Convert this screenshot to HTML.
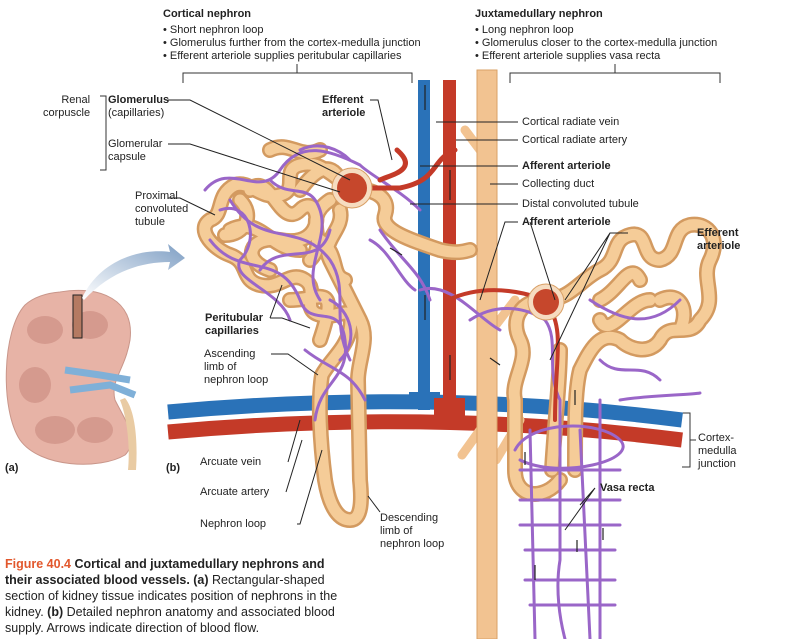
<!DOCTYPE html>
<html><head><meta charset="utf-8"><style>
body{margin:0;background:#fff;}
#w{position:relative;width:800px;height:639px;overflow:hidden;font-family:"Liberation Sans",sans-serif;color:#222;}
.t{position:absolute;font-size:11px;line-height:13px;white-space:nowrap;}
b{font-weight:bold;}
</style></head><body><div id="w">
<svg width="800" height="639" style="position:absolute;left:0;top:0">
<defs>
<linearGradient id="arr" x1="0" y1="1" x2="1" y2="0"><stop offset="0" stop-color="#fff"/><stop offset="1" stop-color="#7f9fc4"/></linearGradient>
<path id="ct" d="M352,188 C380,190 390,200 385,215 C380,230 410,240 440,250 C460,255 468,250 470,250 M352,188 C330,175 320,160 300,165 C280,170 300,190 280,195 C260,200 250,180 235,185 C215,195 225,215 210,220 C195,230 215,250 230,255 C250,262 240,280 260,285 C280,290 290,270 305,280 C320,290 300,310 320,315 C340,320 355,300 350,330 C345,350 330,360 322,375 C318,400 320,440 325,480 C330,510 340,520 350,520 C362,520 362,500 360,480 L358,380 C358,360 370,340 360,320 C350,300 340,280 330,260 C320,240 345,230 340,210 M250,190 C270,170 280,230 300,210 C320,190 330,250 280,240 C250,235 240,260 270,270 M230,230 C260,215 270,250 300,250 M330,200 C300,220 330,240 310,260 M290,300 C320,300 340,280 320,340 M300,190 C315,170 330,160 340,180 M240,200 C255,215 245,235 225,235 M320,240 C340,255 330,275 345,280 M270,150 C290,140 300,160 320,150"/>
<path id="jt" d="M545,300 C570,300 580,280 600,270 C620,260 610,240 630,235 C650,230 640,260 660,260 C680,255 670,230 690,225 C710,222 720,240 710,260 C700,280 720,300 700,320 C690,340 670,320 660,340 C650,355 630,350 620,340 C600,330 590,350 580,370 C575,390 575,420 575,470 M545,300 C520,300 510,320 520,340 C530,360 510,380 515,400 L515,470 C515,500 545,500 560,480 M560,350 C560,380 555,420 552,470 M600,320 C610,340 630,300 650,300 M640,280 C630,260 620,290 600,300 M660,300 C680,290 690,310 680,330"/>
</defs>
<g stroke="#333" fill="none" stroke-width="1">
<path d="M183,83 V73 H412 V83 M297,73 V64"/>
<path d="M510,83 V73 H720 V83 M615,73 V64"/>
<path d="M100,96 H106 V170 H100"/>
<path d="M682,413 H690 V467 H682 M690,440 H696"/>
</g>
<path d="M60,292 C100,285 135,300 130,340 C125,370 110,380 115,400 C125,420 140,440 125,455 C100,470 40,468 20,440 C0,410 2,330 25,305 C35,296 48,293 60,292Z" fill="#e7b3a6" stroke="#c9968a"/>
<g fill="#d59a8e"><ellipse cx="45" cy="330" rx="18" ry="14"/><ellipse cx="90" cy="325" rx="18" ry="14"/><ellipse cx="35" cy="385" rx="16" ry="18"/><ellipse cx="55" cy="430" rx="20" ry="14"/><ellipse cx="95" cy="430" rx="18" ry="13"/></g>
<path d="M65,370 L100,375 L130,380 M70,390 L110,385 L135,395" stroke="#7fb0d8" stroke-width="7" fill="none"/>
<path d="M120,400 C128,420 130,450 128,470 L136,470 C138,440 135,410 125,398Z" fill="#e9cba3"/>
<rect x="73" y="295" width="9" height="43" fill="#b57a62" stroke="#222"/>
<path d="M82,298 C100,260 140,248 170,252 L168,244 L185,258 L168,270 L170,262 C140,262 110,272 84,300Z" fill="url(#arr)"/>
<path d="M168,412 Q430,388 682,420" stroke="#2a72b8" stroke-width="15" fill="none"/>
<path d="M168,432 Q430,408 682,440" stroke="#c43a28" stroke-width="15" fill="none"/>
<rect x="418" y="80" width="12" height="330" fill="#2a72b8"/>
<rect x="443" y="80" width="13" height="330" fill="#c43a28"/>
<path d="M418,392 H409 V405 H440 V392 H430Z" fill="#2a72b8"/>
<path d="M443,398 H434 V418 H465 V398 H456Z" fill="#c43a28"/>
<path d="M480,150 L465,130 M492,330 L515,300 M480,430 L462,455 M496,460 L520,420" stroke="#f2c391" stroke-width="9" stroke-linecap="round"/>
<rect x="477" y="70" width="20" height="569" fill="#f2c391" stroke="#d9a066"/>
<g fill="none" stroke-linecap="round" stroke-linejoin="round">
<use href="#ct" stroke="#d39a60" stroke-width="16"/>
<use href="#ct" stroke="#f5cc98" stroke-width="11"/>
<path d="M205,190 C230,160 260,200 280,170 C300,140 330,150 360,165 C370,175 400,190 420,210 M210,240 C240,280 280,250 300,300 C310,330 340,300 345,340 C350,380 320,380 315,420 M230,200 C260,250 300,220 330,260 C350,290 330,320 350,360 M380,230 C400,260 420,270 430,300 M260,270 C280,240 320,270 330,230 M305,350 C330,370 350,370 365,400 M220,210 C250,200 260,240 240,260 C230,280 280,290 290,320 M270,180 C290,200 310,180 320,210 C330,240 300,270 320,300 M330,300 C350,310 360,340 340,360 M300,150 C320,140 340,150 350,160 M370,240 C390,250 400,280 415,290" stroke="#9a66c8" stroke-width="3"/>
<use href="#jt" stroke="#d39a60" stroke-width="16"/>
<use href="#jt" stroke="#f5cc98" stroke-width="11"/>
<path d="M470,320 C500,300 530,310 545,320 C560,340 545,370 560,400 L560,560 C555,590 560,620 565,639 M530,430 L535,639 M600,400 L600,639 M580,430 L590,639 M515,450 C530,420 600,420 620,440 C640,460 560,480 520,460 M520,470 H620 M520,500 H620 M520,525 H620 M525,550 H615 M525,580 H615 M530,605 H615 M620,400 C650,395 690,395 700,393 M420,290 C450,280 480,320 500,330 M590,300 C620,320 650,330 680,300 M600,360 C620,380 640,360 660,380" stroke="#9a66c8" stroke-width="3"/>
<path d="M448,300 C470,290 500,285 540,298 M548,305 C565,330 555,360 555,420" stroke="#c43a28" stroke-width="4"/>
<path d="M455,150 C430,160 440,180 400,188 L370,188 M397,150 C420,170 390,175 380,180" stroke="#c43a28" stroke-width="5"/>
</g>
<circle cx="352" cy="188" r="20" fill="#f6dcc0" stroke="#d9a066"/>
<circle cx="352" cy="188" r="15" fill="#c6472c"/>
<circle cx="546" cy="302" r="18" fill="#f6dcc0" stroke="#d9a066"/>
<circle cx="546" cy="302" r="13" fill="#c6472c"/>
<g stroke="#222" stroke-width="1" fill="none">
<path d="M168,100 H190 L350,180"/>
<path d="M168,144 H190 L340,192"/>
<path d="M168,198 H180 L215,215"/>
<path d="M370,100 H378 L392,160"/>
<path d="M436,122 H518"/><path d="M456,140 H518"/><path d="M420,166 H518"/>
<path d="M490,184 H518"/><path d="M410,204 H518"/>
<path d="M518,222 H505 L480,300"/><path d="M530,222 L555,300"/>
<path d="M628,233 H610 L565,300 M610,233 L550,360"/>
<path d="M270,318 L282,285 M270,318 H282 L310,328"/>
<path d="M271,354 H288 L318,375"/>
<path d="M288,462 L300,420"/><path d="M286,492 L302,440"/><path d="M297,524 H300 L322,450"/>
<path d="M380,512 L368,496"/>
<path d="M595,488 L580,505 M595,488 L565,530"/>
</g>
<g stroke="#222" stroke-width="1.2" fill="none">
<path d="M425,85 V110 M425,295 V320 M450,200 V170 M450,380 V355 M575,390 V405 M525,465 V452 M603,540 V528 M577,540 V552 M535,580 V565 M490,358 L500,365 M390,248 L402,255"/>
</g>
</svg>
<div class="t" style="left:163px;top:8px"><b>Cortical nephron</b></div>
<div class="t" style="left:163px;top:24px">• Short nephron loop<br>• Glomerulus further from the cortex-medulla junction<br>• Efferent arteriole supplies peritubular capillaries</div>
<div class="t" style="left:475px;top:8px"><b>Juxtamedullary nephron</b></div>
<div class="t" style="left:475px;top:24px">• Long nephron loop<br>• Glomerulus closer to the cortex-medulla junction<br>• Efferent arteriole supplies vasa recta</div>
<div class="t" style="left:43px;top:94px;text-align:right">&nbsp;&nbsp;Renal<br>corpuscle</div>
<div class="t" style="left:108px;top:94px"><b>Glomerulus</b><br>(capillaries)</div>
<div class="t" style="left:108px;top:138px">Glomerular<br>capsule</div>
<div class="t" style="left:135px;top:190px">Proximal<br>convoluted<br>tubule</div>
<div class="t" style="left:322px;top:94px"><b>Efferent<br>arteriole</b></div>
<div class="t" style="left:522px;top:116px">Cortical radiate vein</div>
<div class="t" style="left:522px;top:134px">Cortical radiate artery</div>
<div class="t" style="left:522px;top:160px"><b>Afferent arteriole</b></div>
<div class="t" style="left:522px;top:178px">Collecting duct</div>
<div class="t" style="left:522px;top:198px">Distal convoluted tubule</div>
<div class="t" style="left:522px;top:216px"><b>Afferent arteriole</b></div>
<div class="t" style="left:697px;top:227px"><b>Efferent<br>arteriole</b></div>
<div class="t" style="left:205px;top:312px"><b>Peritubular<br>capillaries</b></div>
<div class="t" style="left:204px;top:348px">Ascending<br>limb of<br>nephron loop</div>
<div class="t" style="left:698px;top:432px">Cortex-<br>medulla<br>junction</div>
<div class="t" style="left:5px;top:462px"><b>(a)</b></div>
<div class="t" style="left:166px;top:462px"><b>(b)</b></div>
<div class="t" style="left:200px;top:456px">Arcuate vein</div>
<div class="t" style="left:200px;top:486px">Arcuate artery</div>
<div class="t" style="left:200px;top:518px">Nephron loop</div>
<div class="t" style="left:600px;top:482px"><b>Vasa recta</b></div>
<div class="t" style="left:380px;top:512px">Descending<br>limb of<br>nephron loop</div>
<div class="t" style="left:5px;top:556px;font-size:12.5px;line-height:16px;white-space:normal;width:350px"><b><span style="color:#e2572c">Figure 40.4</span> Cortical and juxtamedullary nephrons and their associated blood vessels. (a)</b> Rectangular-shaped section of kidney tissue indicates position of nephrons in the kidney. <b>(b)</b> Detailed nephron anatomy and associated blood supply. Arrows indicate direction of blood flow.</div>
</div></body></html>
